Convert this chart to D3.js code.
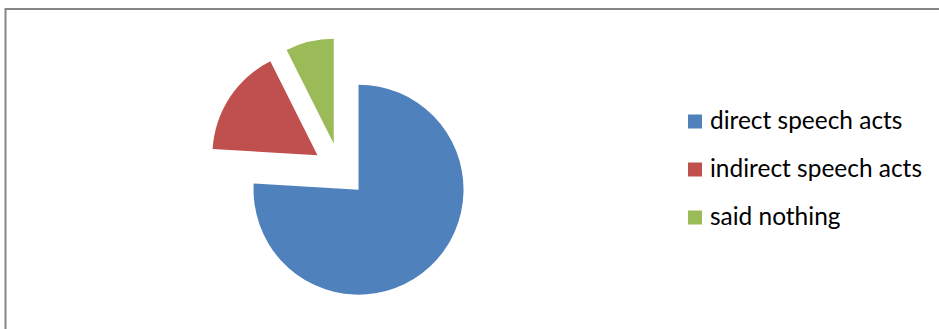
<!DOCTYPE html>
<html>
<head>
<meta charset="utf-8">
<script src="https://cdn.jsdelivr.net/npm/d3@7"></script>
<style>
  html, body { margin: 0; padding: 0; background: #fff; overflow: hidden; }
  svg { display: block; }
</style>
</head>
<body>
<svg id="chart" width="939" height="329"></svg>
<script>
// Responses to the prompt, by type
const categories = ["direct speech acts", "indirect speech acts", "said nothing"];
const values = [41, 9, 4];
const colors = ["#4F81BD", "#C0504D", "#9BBB59"];

const svg = d3.select("#chart");
const W = 939, H = 329;

svg.append("rect").attr("width", W).attr("height", H).attr("fill", "#fff");

// chart frame (runs off the right and bottom of the view)
svg.append("rect")
  .attr("x", 5.5).attr("y", 9)
  .attr("width", W + 20).attr("height", H + 20)
  .attr("fill", "none")
  .attr("stroke", "#868686")
  .attr("stroke-width", 2);

// exploded pie
const cx = 340, cy = 170, radius = 105, explode = 27;
const pie = d3.pie().sort(null).value(d => d);
const arc = d3.arc().innerRadius(0).outerRadius(radius);
const slices = pie(values);

const color = d3.scaleOrdinal().domain(categories).range(colors);

svg.append("g")
  .selectAll("path")
  .data(slices)
  .join("path")
  .attr("transform", d => {
    const mid = (d.startAngle + d.endAngle) / 2;
    return `translate(${cx + Math.sin(mid) * explode},${cy - Math.cos(mid) * explode})`;
  })
  .attr("d", arc)
  .attr("fill", (d, i) => color(categories[i]));

// legend
const legendX = 688, firstBaseline = 128.5, rowGap = 48, sw = 14;
const legend = svg.append("g").attr("font-family", "Lato, 'Open Sans', sans-serif");

const rows = legend.selectAll("g")
  .data(categories)
  .join("g")
  .attr("transform", (d, i) => `translate(${legendX},${firstBaseline + i * rowGap})`);

rows.append("rect")
  .attr("x", 0).attr("y", -sw)
  .attr("width", sw).attr("height", sw)
  .attr("fill", d => color(d));

const labels = rows.append("text")
  .attr("x", 22).attr("y", 0)
  .attr("fill", "#000")
  .attr("font-size", 100)
  .text(d => d);

// size the labels so the longest one spans its measured width
const longest = d3.max(labels.nodes(), n => n.getComputedTextLength());
const fontSize = 100 * 212 / longest;
labels.attr("font-size", fontSize.toFixed(2));
</script>
</body>
</html>
